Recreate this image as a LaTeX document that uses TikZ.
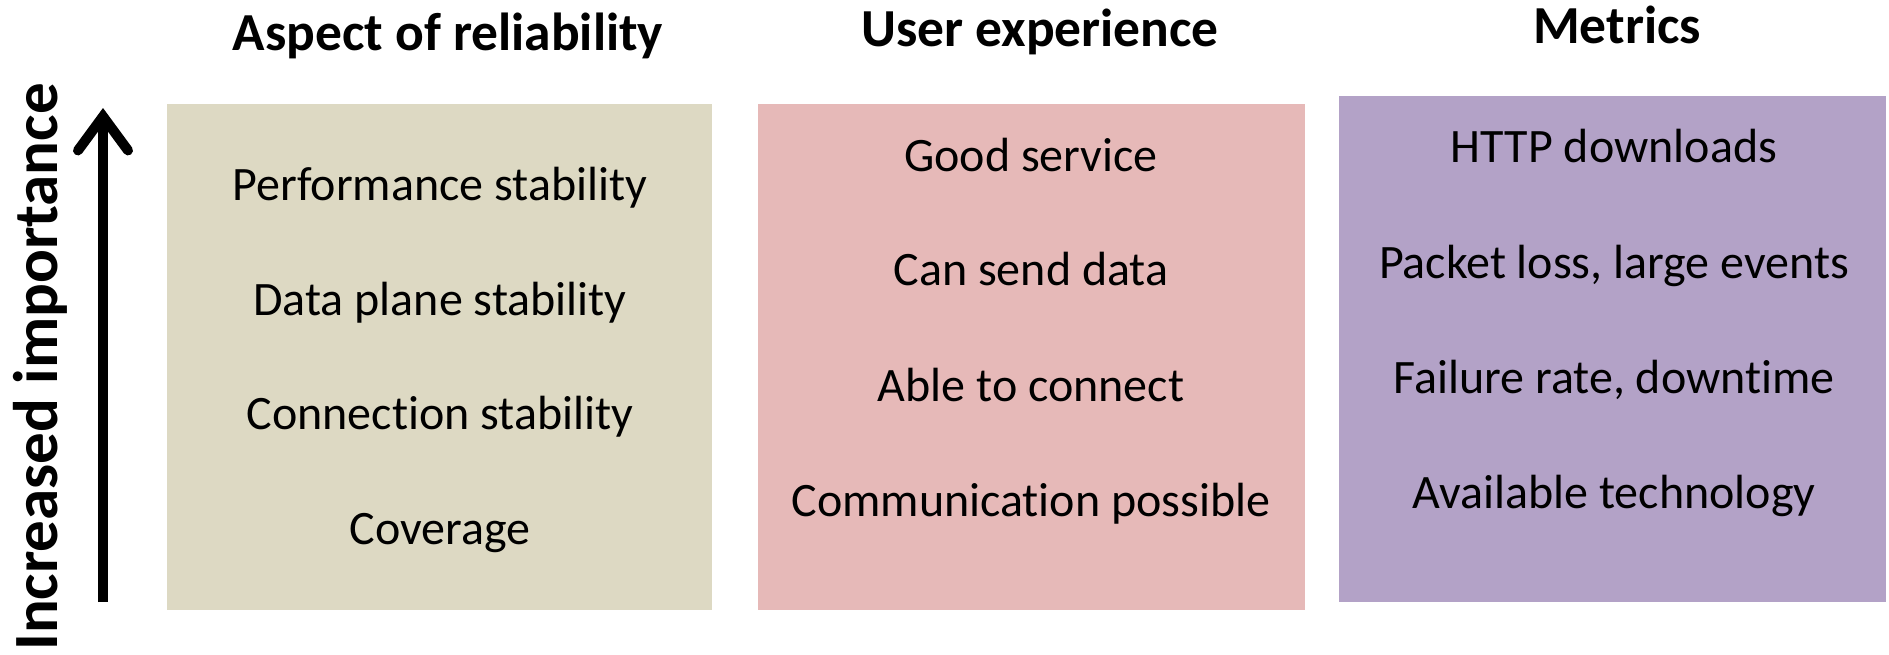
\documentclass[tikz,border=0pt]{standalone}
\usepackage{fontspec}
\setmainfont{Carlito}[Ligatures=NoCommon]
\usetikzlibrary{arrows.meta}
\definecolor{tanbox}{HTML}{DDD9C3}
\definecolor{pinkbox}{HTML}{E6B9B8}
\definecolor{lilacbox}{HTML}{B3A2C7}
\begin{document}
\begin{tikzpicture}[x=1pt,y=-1pt,
  item/.style={anchor=base,inner sep=0pt,font=\fontsize{48}{54}\selectfont},
  head/.style={anchor=base,inner sep=0pt,font=\fontsize{53.5}{60}\selectfont\bfseries}]
\useasboundingbox (0,0) rectangle (1889,654);
% boxes
\fill[tanbox] (167,104) rectangle (712,610);
\fill[pinkbox] (758,104) rectangle (1305,610);
\fill[lilacbox] (1339,96) rectangle (1886,602);
% headers
\node[head] (h1) at (448,50) {Aspect of reliability};
\node[head] (h2) at (1040,46) {User experience};
\node[head] (h3) at (1617,43) {Metrics};
% column 1
\node[item] (a1) at (440,200) {Performance stability};
\node[item] (a2) at (440,315) {Data plane stability};
\node[item] (a3) at (440,429) {Connection stability};
\node[item] (a4) at (440,544) {Coverage};
% column 2
\node[item] (b1) at (1031,171) {Good service};
\node[item] (b2) at (1031,285) {Can send data};
\node[item] (b3) at (1031,401) {Able to connect};
\node[item] (b4) at (1031,516) {Communication possible};
% column 3
\node[item] (c1) at (1614,162) {HTTP downloads};
\node[item] (c2) at (1614,278) {Packet loss, large events};
\node[item] (c3) at (1614,393) {Failure rate, downtime};
\node[item] (c4) at (1614,508) {Available technology};
% arrow
\coordinate (arrB) at (103,602);
\coordinate (arrT) at (103,108);
\draw[line width=10pt,-{Straight Barb[length=34pt,width=50pt,line cap=round]}] (arrB) -- (arrT);
% vertical label
\node[anchor=base,inner sep=0pt,rotate=90,font=\fontsize{63}{70}\selectfont\bfseries] (lab) at (57,367) {Increased importance};
\end{tikzpicture}
\end{document}
